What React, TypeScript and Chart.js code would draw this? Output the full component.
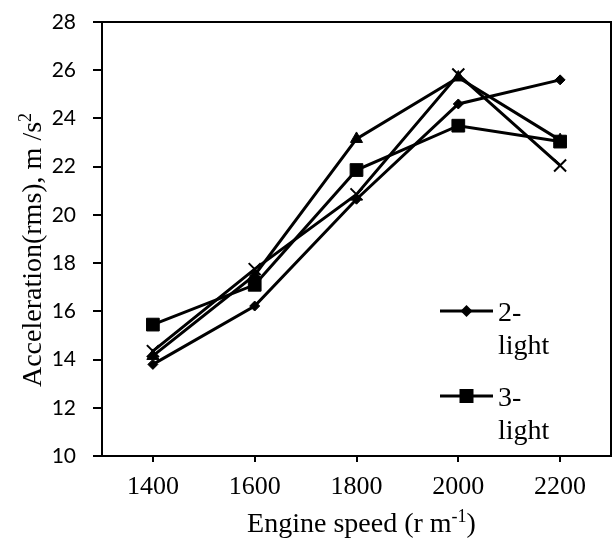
import React, { useEffect, useRef } from "react";
import { Chart, registerables } from "chart.js";

Chart.register(...registerables);

// Engine speed categories (rpm)
const speeds = ["1400", "1600", "1800", "2000", "2200"];

// RMS acceleration, m/s^2
const twoLight = [13.8, 16.22, 20.65, 24.6, 25.6];
const threeLight = [15.45, 17.1, 21.86, 23.7, 23.04];
const seriesThree = [14.15, 17.5, 23.15, 25.7, 23.1];
const seriesFour = [14.35, 17.75, 20.85, 25.82, 22.05];

const seriesNames = ["2-light", "3-light", "Series 3", "Series 4"];
const legendShown = [0, 1];

const yMin = 10;
const yMax = 28;
const yStep = 2;

const SERIF = "'Liberation Serif', 'Times New Roman', serif";
const SANS = "Lato, 'Liberation Sans', sans-serif";

function drawMarker(ctx: CanvasRenderingContext2D, style: string, x: number, y: number) {
  ctx.fillStyle = "#000";
  ctx.strokeStyle = "#000";
  ctx.beginPath();
  if (style === "rectRot") {
    const r = 6;
    ctx.moveTo(x - r, y);
    ctx.lineTo(x, y - r);
    ctx.lineTo(x + r, y);
    ctx.lineTo(x, y + r);
    ctx.closePath();
    ctx.fill();
  } else if (style === "rect") {
    const h = 7;
    ctx.rect(x - h, y - h, 2 * h, 2 * h);
    ctx.fill();
  }
}

// Legend with wrapped labels, placed inside the plot area
const wrappedLegend = {
  id: "wrappedLegend",
  afterDatasetsDraw(chart: any) {
    const ctx: CanvasRenderingContext2D = chart.ctx;
    const a = chart.chartArea;
    ctx.save();
    legendShown.forEach((dsIndex, i) => {
      const ds = chart.data.datasets[dsIndex];
      const y = a.top + 289 + i * 85;
      const x0 = a.right - 171;
      const x1 = a.right - 118;
      ctx.strokeStyle = "#000";
      ctx.lineWidth = 3;
      ctx.beginPath();
      ctx.moveTo(x0, y);
      ctx.lineTo(x1, y);
      ctx.stroke();
      drawMarker(ctx, ds.pointStyle, (x0 + x1) / 2, y);
      const lines = String(ds.label).split(/(?<=-)/);
      ctx.fillStyle = "#000";
      ctx.font = `28px ${SERIF}`;
      ctx.textAlign = "left";
      ctx.textBaseline = "alphabetic";
      lines.forEach((t: string, k: number) => {
        ctx.fillText(t, a.right - 113, y + 9.5 + k * 33);
      });
    });
    ctx.restore();
  },
};

function drawPieces(ctx: CanvasRenderingContext2D, pieces: { t: string; sup?: boolean }[], cx: number, baseline: number) {
  const main = `28px ${SERIF}`;
  const sup = `18px ${SERIF}`;
  let total = 0;
  pieces.forEach((p) => {
    ctx.font = p.sup ? sup : main;
    total += ctx.measureText(p.t).width;
  });
  let x = cx - total / 2;
  pieces.forEach((p) => {
    ctx.font = p.sup ? sup : main;
    ctx.fillText(p.t, x, p.sup ? baseline - 10 : baseline);
    x += ctx.measureText(p.t).width;
  });
}

// Frame around the plot plus axis titles with superscripts
const frameAndTitles = {
  id: "frameAndTitles",
  afterDraw(chart: any) {
    const ctx: CanvasRenderingContext2D = chart.ctx;
    const a = chart.chartArea;
    ctx.save();
    ctx.strokeStyle = "#000";
    ctx.lineWidth = 2;
    ctx.strokeRect(a.left, a.top, a.right - a.left, a.bottom - a.top);

    ctx.fillStyle = "#000";
    ctx.textAlign = "left";
    ctx.textBaseline = "alphabetic";
    drawPieces(
      ctx,
      [{ t: "Engine speed (r m" }, { t: "-1", sup: true }, { t: ")" }],
      (a.left + a.right) / 2 + 5,
      532
    );

    ctx.translate(41, (a.top + a.bottom) / 2 + 11);
    ctx.rotate(-Math.PI / 2);
    drawPieces(ctx, [{ t: "Acceleration(rms), m /s" }, { t: "2", sup: true }], 0, 0);
    ctx.restore();
  },
};

export default function App() {
  const canvasRef = useRef<HTMLCanvasElement | null>(null);

  useEffect(() => {
    if (!canvasRef.current) return;
    const mk = (label: string, data: number[], pointStyle: string, radius: number, bw: number) => ({
      label,
      data,
      borderColor: "#000",
      backgroundColor: "#000",
      borderWidth: 3,
      pointStyle,
      pointRadius: radius,
      pointBorderWidth: bw,
      pointBackgroundColor: "#000",
      pointBorderColor: "#000",
      tension: 0,
      fill: false,
    });
    const chart = new Chart(canvasRef.current, {
      type: "line",
      data: {
        labels: speeds,
        datasets: [
          mk(seriesNames[0], twoLight, "rectRot", 5, 1),
          mk(seriesNames[1], threeLight, "rect", 9, 1),
          mk(seriesNames[2], seriesThree, "triangle", 7, 1),
          mk(seriesNames[3], seriesFour, "crossRot", 8.5, 2),
        ] as any,
      },
      options: {
        responsive: false,
        animation: false,
        layout: { autoPadding: false, padding: { left: 0, top: 22, right: 5, bottom: 0 } },
        plugins: {
          legend: { display: false },
          tooltip: { enabled: false },
          title: { display: false },
        },
        scales: {
          x: {
            type: "category",
            offset: true,
            grid: {
              offset: false,
              drawOnChartArea: false,
              drawTicks: true,
              tickLength: 6,
              color: "#000",
              lineWidth: 2,
            },
            border: { display: true, color: "#000", width: 2 },
            ticks: {
              color: "#000",
              padding: 10,
              font: { family: SERIF, size: 26 },
              maxRotation: 0,
            },
            afterFit: (s: any) => {
              s.height = 89;
              s.paddingLeft = 0;
              s.paddingRight = 0;
            },
          },
          y: {
            min: yMin,
            max: yMax,
            grid: {
              drawOnChartArea: false,
              drawTicks: true,
              tickLength: 9,
              color: "#000",
              lineWidth: 2,
            },
            border: { display: true, color: "#000", width: 2 },
            ticks: {
              stepSize: yStep,
              color: "#000",
              padding: 17,
              font: { family: SANS, size: 21 },
            },
            afterFit: (s: any) => {
              s.width = 102;
              s.paddingTop = 0;
              s.paddingBottom = 0;
            },
          },
        },
      } as any,
      plugins: [wrappedLegend, frameAndTitles],
    });
    return () => chart.destroy();
  }, []);

  return (
    <div style={{ position: "fixed", left: 0, top: 0, width: 616, height: 545, background: "#fff" }}>
      <canvas ref={canvasRef} width={616} height={545} style={{ display: "block" }} />
    </div>
  );
}
